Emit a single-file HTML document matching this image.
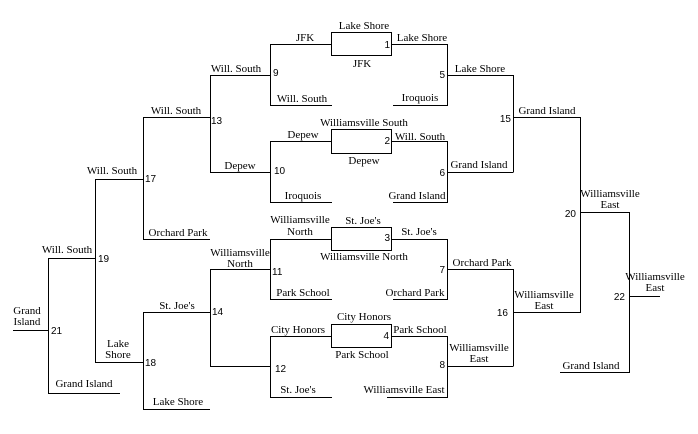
<!DOCTYPE html>
<html><head><meta charset="utf-8"><style>
html,body{margin:0;padding:0;background:#fff;}
svg{display:block;}
text{font-family:"Liberation Serif","Times New Roman",serif;font-size:11px;fill:#000;text-anchor:middle;}
text.n{font-family:"Liberation Sans",sans-serif;font-size:10px;text-anchor:start;}
text.e{text-anchor:end;}
</style></head><body>
<svg width="698" height="434" viewBox="0 0 698 434" xmlns="http://www.w3.org/2000/svg">
<g stroke="#000" stroke-width="1" fill="none" shape-rendering="crispEdges">
<rect x="331.5" y="32.5" width="60" height="23"/>
<rect x="331.5" y="129.5" width="60" height="24"/>
<rect x="331.5" y="227.5" width="60" height="23"/>
<rect x="331.5" y="324.5" width="60" height="23"/>
<path d="M331 44.5H270.5V105.5H332"/>
<path d="M331 141.5H270.5V202.5H332"/>
<path d="M331 239.5H270.5V299.5H332"/>
<path d="M331 336.5H270.5V397.5H332"/>
<path d="M392 44.5H447.5V105.5H393M447 75.5H513"/>
<path d="M392 141.5H447.5V202.5H393M447 172.5H513"/>
<path d="M392 239.5H447.5V299.5H393M447 269.5H513"/>
<path d="M392 336.5H447.5V397.5H387M447 366.5H513"/>
<path d="M270 75.5H210.5V172.5H270"/>
<path d="M270 269.5H210.5V366.5H270M210 312.5H143"/>
<path d="M513.5 75V172.5M513 117.5H580.5V312.5H513M513.5 269V366.5"/>
<path d="M210 117.5H143.5V239.5H210M143 179.5H95.5V362.5H143.5V409.5H210M143.5 312V362"/>
<path d="M95 258.5H48.5V393.5H120M48 330.5H13"/>
<path d="M580 212.5H629.5V372.5H560M629 296.5H660"/>
</g>
<text x="305" y="41">JFK</text>
<text x="364" y="29">Lake Shore</text>
<text class="n e" x="390" y="48">1</text>
<text x="422" y="41">Lake Shore</text>
<text x="362" y="67">JFK</text>
<text x="236" y="72">Will. South</text>
<text class="n" x="273" y="76">9</text>
<text x="302" y="102">Will. South</text>
<text x="480" y="72">Lake Shore</text>
<text class="n e" x="445" y="78">5</text>
<text x="420" y="101">Iroquois</text>
<text x="176" y="114">Will. South</text>
<text class="n" x="211" y="124">13</text>
<text x="364" y="126">Williamsville South</text>
<text x="303" y="138">Depew</text>
<text class="n e" x="390" y="144">2</text>
<text x="420" y="140">Will. South</text>
<text x="364" y="164">Depew</text>
<text x="240" y="169">Depew</text>
<text class="n" x="274" y="174">10</text>
<text class="n e" x="445" y="176">6</text>
<text x="479" y="168">Grand Island</text>
<text x="547" y="114">Grand Island</text>
<text class="n e" x="511" y="122">15</text>
<text x="303" y="199">Iroquois</text>
<text x="417" y="199">Grand Island</text>
<text x="112" y="174">Will. South</text>
<text class="n" x="145" y="182">17</text>
<text x="610" y="197">Williamsville</text>
<text x="610" y="208">East</text>
<text class="n e" x="576" y="217">20</text>
<text x="178" y="236">Orchard Park</text>
<text x="300" y="223">Williamsville</text>
<text x="300" y="235">North</text>
<text x="363" y="224">St. Joe's</text>
<text class="n e" x="390" y="241">3</text>
<text x="419" y="235">St. Joe's</text>
<text x="364" y="260">Williamsville North</text>
<text x="240" y="256">Williamsville</text>
<text x="240" y="267">North</text>
<text class="n" x="272" y="275">11</text>
<text class="n e" x="445" y="273">7</text>
<text x="482" y="266">Orchard Park</text>
<text x="67" y="253">Will. South</text>
<text class="n" x="98" y="262">19</text>
<text x="303" y="296">Park School</text>
<text x="415" y="296">Orchard Park</text>
<text x="544" y="298">Williamsville</text>
<text x="544" y="309">East</text>
<text class="n e" x="508" y="316">16</text>
<text x="177" y="309">St. Joe's</text>
<text class="n" x="212" y="315">14</text>
<text x="27" y="314">Grand</text>
<text x="27" y="325">Island</text>
<text class="n" x="51" y="334">21</text>
<text x="364" y="320">City Honors</text>
<text x="298" y="333">City Honors</text>
<text x="420" y="333">Park School</text>
<text class="n e" x="389" y="339">4</text>
<text x="362" y="358">Park School</text>
<text x="479" y="351">Williamsville</text>
<text x="479" y="362">East</text>
<text x="655" y="280">Williamsville</text>
<text x="655" y="291">East</text>
<text class="n e" x="625" y="300">22</text>
<text x="118" y="347">Lake</text>
<text x="118" y="358">Shore</text>
<text class="n" x="145" y="366">18</text>
<text class="n" x="275" y="372">12</text>
<text class="n e" x="445" y="368">8</text>
<text x="298" y="393">St. Joe's</text>
<text x="404" y="393">Williamsville East</text>
<text x="84" y="387">Grand Island</text>
<text x="591" y="369">Grand Island</text>
<text x="178" y="405">Lake Shore</text>
</svg>
</body></html>
